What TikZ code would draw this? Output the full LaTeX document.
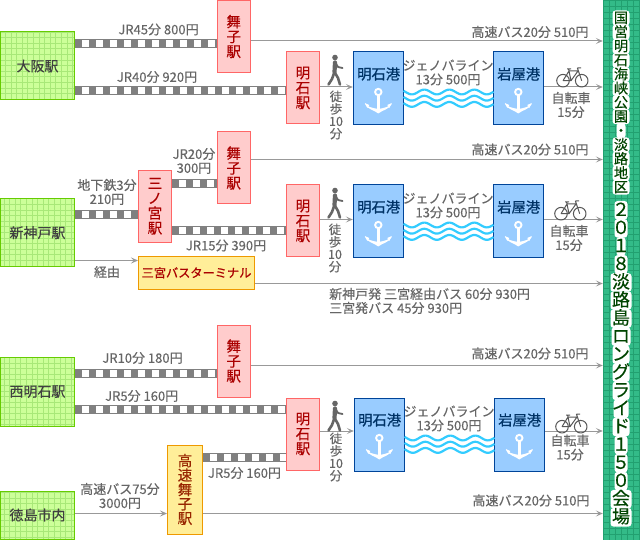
\documentclass[tikz,border=0pt]{standalone}
\usepackage{fontspec}
\setmainfont[FakeBold=0.25]{Noto Sans CJK JP}
\newfontfamily\medfont[FakeBold=0.7]{Noto Sans CJK JP}
\usetikzlibrary{arrows.meta}
\definecolor{txtgray}{HTML}{666666}
\definecolor{linegray}{HTML}{999999}
\definecolor{railgray}{HTML}{808080}
\definecolor{greenfill}{HTML}{CCFF99}
\definecolor{greengrid}{HTML}{A8E878}
\definecolor{greenline}{HTML}{66CC00}
\definecolor{redfill}{HTML}{FFCCCC}
\definecolor{redline}{HTML}{FF6666}
\definecolor{redtxt}{HTML}{AA0000}
\definecolor{yellowfill}{HTML}{FFEE99}
\definecolor{yellowline}{HTML}{EE9900}
\definecolor{bluefill}{HTML}{99CCFF}
\definecolor{blueline}{HTML}{004499}
\definecolor{bluetxt}{HTML}{003366}
\definecolor{barfill}{HTML}{33BB88}
\definecolor{bargrid}{HTML}{22A070}
\definecolor{bartxt}{HTML}{004400}
\definecolor{wavecol}{HTML}{33CCFF}
\tikzset{
  gridded/.style n args={2}{path picture={\draw[#1,line width=0.8pt,step=#2] (path picture bounding box.south west) grid (path picture bounding box.north east);}},
  origin/.style={draw=greenline,fill=greenfill,line width=1pt,inner sep=0pt,minimum width=74pt,text=black!75,font=\fontsize{14}{15}\selectfont,gridded={greengrid}{5.6pt}},
  redbox/.style={draw=redline,fill=redfill,line width=1pt,inner sep=0pt,minimum width=33pt,minimum height=72pt,align=center,text=redtxt,font=\fontsize{14.5}{14.9}\selectfont},
  yellowbox/.style={draw=yellowline,fill=yellowfill,line width=1pt,inner sep=0pt,align=center},
  port/.style={draw=blueline,fill=bluefill,line width=1pt,inner sep=0pt,minimum width=50pt,minimum height=73pt},
  porttxt/.style={inner sep=0pt,text=bluetxt,font=\fontsize{14.3}{15}\selectfont\medfont},
  lab/.style={inner sep=0pt,align=center,text=txtgray,font=\fontsize{13}{14}\selectfont},
  walklab/.style={inner sep=0pt,align=center,text=txtgray,font=\fontsize{12.5}{12.4}\selectfont},
  rail/.style={draw=railgray,line width=9pt,postaction={draw=white,line width=6.4pt,dash pattern=on 7pt off 7pt,dash phase=7pt}},
  arrowline/.style={draw=linegray,line width=1pt,-{Stealth[length=7pt,width=6pt,inset=3pt]}},
  walkerpic/.pic={
    \fill[txtgray] (0,-12.5) circle (2.8);
    \draw[txtgray,line width=4.2pt,line cap=round,line join=round] (0,-7.5) -- (-0.5,2);
    \draw[txtgray,line width=1.8pt,line cap=round,line join=round] (0,-8) -- (3,-3) -- (7.5,-2);
    \draw[txtgray,line width=2.6pt,line cap=round,line join=round] (-0.5,2) -- (-3,9) -- (-6.5,14.5);
    \draw[txtgray,line width=2.6pt,line cap=round,line join=round] (-0.5,2) -- (3,8) -- (5,14.5);
  },
  anchorpic/.pic={
    \draw[white,line width=1.9pt] (0,-12) circle (3.2);
    \draw[white,line width=2.4pt] (0,-9) -- (0,8);
    \fill[white] (-13.5,0) .. controls (-10,6) and (-4,6) .. (0,9.5) .. controls (4,6) and (10,6) .. (13.5,0)
      .. controls (10,3) and (6,4) .. (0,5) .. controls (-6,4) and (-10,3) .. (-13.5,0) -- cycle;
    \fill[white] (-13.5,-1) -- (-9,1) -- (-11,4) -- cycle;
    \fill[white] (13.5,-1) -- (9,1) -- (11,4) -- cycle;
  },
  bikepic/.pic={
    \draw[txtgray!85!black,line width=1pt,line join=round] (-9,3.7) circle (6.3) (9.7,3.7) circle (6.3)
      (-9,3.7) -- (-3,-6) -- (6,-6) -- (-1,3.7) -- (-9,3.7)
      (-3,-6) -- (-1,3.7)
      (-5,-8) -- (-1,-8) (-3.4,-8) -- (-3,-6)
      (5.4,-9) -- (9.7,3.7) (5.4,-9) -- (9,-9);
  },
  wavepic/.pic={
    \foreach \off in {0,6.2,12.4}{
      \draw[wavecol,line width=2.2pt] plot[domain=0:90,samples=80,smooth] (\x,{\off+2.4*sin(14.4*\x-30)});
    }
  },
}
\begin{document}
\begin{tikzpicture}[x=1pt,y=-1pt]
\useasboundingbox (0,0) rectangle (640,540);
\fill[white] (0,0) rectangle (640,540);

% right bar
\node[draw=none,fill=barfill,inner sep=0pt,minimum width=37pt,minimum height=540pt,gridded={bargrid}{6pt}] (bar) at (621.5,270) {};
\foreach \w [count=\i from 0] in {17,17,17,17,17,17,17,17,9,17,17,17,17}{
  \fill[white,rounded corners=3pt] ({621-\w/2},{10.5+14.1*\i}) rectangle ({621+\w/2},{25.5+14.1*\i});
}
\foreach \w [count=\i from 0] in {13,13,9,13,21,21,21,19,17,17,17,15,17,13,13,13,21,21}{
  \fill[white,rounded corners=3pt] ({621-\w/2},{201+18.06*\i}) rectangle ({621+\w/2},{219.5+18.06*\i});
}
\node[inner sep=0pt,align=center,text=bartxt,font=\fontsize{14.2}{14.1}\selectfont] (bartop) at (621,102.5) {国\\営\\明\\石\\海\\峡\\公\\園\\・\\淡\\路\\地\\区};
\node[inner sep=0pt,align=center,text=bartxt,font=\fontsize{18}{18.06}\selectfont] (barbottom) at (621,363.5) {２\\０\\１\\８\\淡\\路\\島\\ロ\\ン\\グ\\ラ\\イ\\ド\\１\\５\\０\\会\\場};

% origins
\node[origin,minimum height=68pt] (osaka) at (37.5,66) {大阪駅};
\node[origin,minimum height=68pt] (shinkobe) at (37.5,232.7) {新神戸駅};
\node[origin,minimum height=69pt] (nishi) at (37.5,391.7) {西明石駅};
\node[origin,minimum height=48pt] (tokushima) at (37.5,515) {徳島市内};

% stations section 1
\node[redbox] (maiko1) at (233.7,36.5) {舞\\子\\駅};
\node[redbox] (akashi1) at (303,88) {明\\石\\駅};
\node[port] (port1) at (378.3,88.5) {};
\node[port] (iwaya1) at (518.3,88.5) {};
% section 2
\node[redbox] (sannomiya) at (155,206.3) {三\\ノ\\宮\\駅};
\node[redbox] (maiko2) at (233.7,168) {舞\\子\\駅};
\node[redbox] (akashi2) at (303,221) {明\\石\\駅};
\node[port] (port2) at (378.3,221.5) {};
\node[port] (iwaya2) at (518.3,221.5) {};
\node[yellowbox,minimum width=116pt,minimum height=33pt,text=redtxt,font=\fontsize{12.2}{13}\selectfont\medfont] (busterm) at (196.5,272.7) {三宮バスターミナル};
% section 3
\node[redbox] (maiko3) at (233.7,361) {舞\\子\\駅};
\node[redbox] (akashi3) at (303,434) {明\\石\\駅};
\node[port] (port3) at (379.3,434.5) {};
\node[port] (iwaya3) at (519.3,434.5) {};
\node[yellowbox,minimum width=35pt,minimum height=89pt,text=redtxt!70!yellowline!80!black,font=\fontsize{14.5}{14.4}\selectfont] (kosoku) at (185,489.5) {高\\速\\舞\\子\\駅};

% rails
\draw[rail] (osaka.east |- 0,43.5) -- (maiko1.west |- 0,43.5);
\draw[rail] (osaka.east |- 0,90.5) -- (akashi1.west |- 0,90.5);
\draw[rail] (shinkobe.east |- 0,214.5) -- (sannomiya.west |- 0,214.5);
\draw[rail] (sannomiya.east |- 0,183.5) -- (maiko2.west |- 0,183.5);
\draw[rail] (sannomiya.east |- 0,230.5) -- (akashi2.west |- 0,230.5);
\draw[rail] (nishi.east |- 0,373.5) -- (maiko3.west |- 0,373.5);
\draw[rail] (nishi.east |- 0,409.5) -- (akashi3.west |- 0,409.5);
\draw[rail] (kosoku.east |- 0,457.5) -- (akashi3.west |- 0,457.5);

% gray connectors
\draw[arrowline] (maiko1.east |- 0,41) -- (bar.west |- 0,41);
\draw[arrowline] (akashi1.east |- 0,87) -- (port1.west |- 0,87);
\draw[arrowline] (iwaya1.east |- 0,87) -- (bar.west |- 0,87);
\draw[arrowline] (maiko2.east |- 0,159.5) -- (bar.west |- 0,159.5);
\draw[arrowline] (akashi2.east |- 0,219.5) -- (port2.west |- 0,219.5);
\draw[arrowline] (iwaya2.east |- 0,219.5) -- (bar.west |- 0,219.5);
\draw[arrowline] (shinkobe.east |- 0,260.5) -- (busterm.west |- 0,260.5);
\draw[arrowline] (busterm.east |- 0,283.5) -- (bar.west |- 0,283.5);
\draw[arrowline] (maiko3.east |- 0,365.5) -- (bar.west |- 0,365.5);
\draw[arrowline] (akashi3.east |- 0,431) -- (port3.west |- 0,431);
\draw[arrowline] (iwaya3.east |- 0,431) -- (bar.west |- 0,431);
\draw[arrowline] (tokushima.east |- 0,513.5) -- (kosoku.west |- 0,513.5);
\draw[arrowline] (kosoku.east |- 0,513.5) -- (bar.west |- 0,513.5);

% waves
\pic at (403.5,92) {wavepic};
\pic at (403.5,225) {wavepic};
\pic at (404.5,438) {wavepic};

% icons
\pic at (335,70) {walkerpic};
\pic at (335,203) {walkerpic};
\pic at (335,416) {walkerpic};
\pic at (378.3,104) {anchorpic};
\pic at (518.3,104) {anchorpic};
\pic at (378.3,237) {anchorpic};
\pic at (518.3,237) {anchorpic};
\pic at (379.3,450) {anchorpic};
\pic at (519.3,450) {anchorpic};
\pic at (572,77) {bikepic};
\pic at (570,210) {bikepic};
\pic at (571,423) {bikepic};

% port names
\node[porttxt] (tp1) at (378.7,74) {明石港};
\node[porttxt] (ti1) at (518.7,74) {岩屋港};
\node[porttxt] (tp2) at (378.7,207) {明石港};
\node[porttxt] (ti2) at (518.7,207) {岩屋港};
\node[porttxt] (tp3) at (379.7,420) {明石港};
\node[porttxt] (ti3) at (519.7,420) {岩屋港};

% section 1 labels
\node[lab] (a1) at (158.5,29.5) {JR45分 800円};
\node[lab] (a2) at (157,77) {JR40分 920円};
\node[lab] (a3) at (530,32) {高速バス20分 510円};
\node[walklab] (a4) at (336,115) {徒\\歩\\10\\分};
\node[lab] (a5) at (448,72.5) {ジェノバライン\\13分 500円};
\node[lab] (a6) at (571,105) {自転車\\15分};
% section 2 labels
\node[lab] (b1) at (107,192) {地下鉄3分\\210円};
\node[lab] (b2) at (194,161) {JR20分\\300円};
\node[lab] (b3) at (226,245.5) {JR15分 390円};
\node[lab] (b4) at (107,272) {経由};
\node[lab] (b5) at (530,149.5) {高速バス20分 510円};
\node[walklab] (b6) at (335,248) {徒\\歩\\10\\分};
\node[lab] (b7) at (448,205.5) {ジェノバライン\\13分 500円};
\node[lab] (b8) at (569,238) {自転車\\15分};
\node[lab,anchor=west,align=left] (b9) at (329,301) {新神戸発 三宮経由バス 60分 930円\\三宮発バス 45分 930円};
% section 3 labels
\node[lab] (c1) at (142.5,358) {JR10分 180円};
\node[lab] (c2) at (141.7,396) {JR5分 160円};
\node[lab] (c3) at (244.5,473) {JR5分 160円};
\node[lab] (c4) at (120,496) {高速バス75分\\3000円};
\node[lab] (c5) at (530,353.5) {高速バス20分 510円};
\node[lab] (c6) at (531,500.5) {高速バス20分 510円};
\node[walklab] (c7) at (336,457) {徒\\歩\\10\\分};
\node[lab] (c8) at (449,418.5) {ジェノバライン\\13分 500円};
\node[lab] (c9) at (570,447.5) {自転車\\15分};
\end{tikzpicture}
\end{document}
